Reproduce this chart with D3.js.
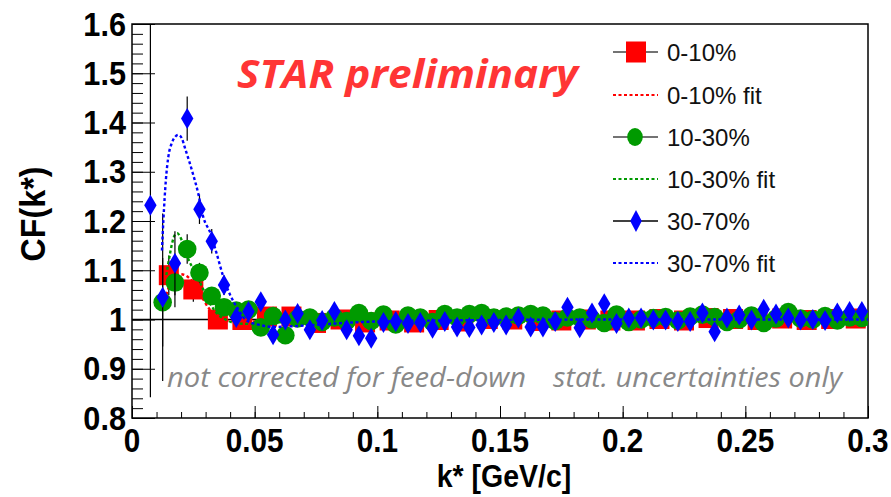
<!DOCTYPE html>
<html><head><meta charset="utf-8">
<script src="https://cdn.jsdelivr.net/npm/d3@7"></script>
<style>body{margin:0;background:#fff}</style></head><body>
<svg id="c" width="891" height="497"></svg>
<script>
// ---------- data ----------
const xTickLabels = ["0","0.05","0.1","0.15","0.2","0.25","0.3"];
const xTickValues = [0,0.05,0.1,0.15,0.2,0.25,0.3];
const yTickLabels = ["0.8","0.9","1","1.1","1.2","1.3","1.4","1.5","1.6"];
const yTickValues = [0.8,0.9,1.0,1.1,1.2,1.3,1.4,1.5,1.6];

const seriesNames = ["0-10%","10-30%","30-70%"];

const kRed = [0.015,0.025,0.035,0.045,0.055,0.065,0.075,0.085,0.095,0.105,0.115,0.125,0.135,0.145,0.155,0.165,0.175,0.185,0.195,0.205,0.215,0.225,0.235,0.245,0.255,0.265,0.275,0.285,0.295];
const cfRed = [1.090,1.061,1.000,0.999,1.006,1.006,0.993,1.000,0.994,0.998,0.994,0.999,0.996,1.001,1.000,0.997,0.998,1.000,0.998,0.998,1.001,0.998,1.003,1.001,0.999,1.002,0.999,1.001,1.002];
const errRed = [0.040,0.025,0.012,0.010,0.010,0.010,0.010,0.010,0.010,0.010,0.010,0.010,0.010,0.010,0.010,0.010,0.010,0.010,0.010,0.010,0.010,0.010,0.010,0.010,0.010,0.010,0.010,0.010,0.010];

const kGreen = [0.0125,0.0175,0.0225,0.0275,0.0325,0.0375,0.0425,0.0475,0.0525,0.0575,0.0625,0.0675,0.0725,0.0775,0.0825,0.0875,0.0925,0.0975,0.1025,0.1075,0.1125,0.1175,0.1225,0.1275,0.1325,0.1375,0.1425,0.1475,0.1525,0.1575,0.1625,0.1675,0.1725,0.1775,0.1825,0.1875,0.1925,0.1975,0.2025,0.2075,0.2125,0.2175,0.2225,0.2275,0.2325,0.2375,0.2425,0.2475,0.2525,0.2575,0.2625,0.2675,0.2725,0.2775,0.2825,0.2875,0.2925,0.2975];
const cfGreen = [1.035,1.075,1.143,1.095,1.048,1.025,1.018,1.020,0.984,1.007,0.968,1.002,1.004,0.995,1.004,0.997,1.013,0.997,1.010,0.990,1.008,1.004,0.995,1.011,1.004,1.011,1.013,1.004,1.006,1.008,1.011,1.008,0.997,1.004,1.004,1.000,0.993,1.010,0.995,1.000,1.003,1.005,0.998,1.006,1.010,1.005,0.995,1.000,1.008,0.993,1.002,1.015,1.002,1.000,1.007,0.998,1.004,1.003];
const errGreen = [0.090,0.050,0.030,0.020,0.015,0.013,0.012,0.012,0.012,0.012,0.012,0.012,0.012,0.012,0.012,0.012,0.012,0.012,0.012,0.012,0.012,0.012,0.012,0.012,0.012,0.012,0.012,0.012,0.012,0.012,0.012,0.012,0.012,0.012,0.012,0.012,0.012,0.012,0.012,0.012,0.012,0.012,0.012,0.012,0.012,0.012,0.012,0.012,0.012,0.012,0.012,0.012,0.012,0.012,0.012,0.012,0.012,0.012];

const kBlue = [0.0075,0.0125,0.0175,0.0225,0.0275,0.0325,0.0375,0.0425,0.0475,0.0525,0.0575,0.0625,0.0675,0.0725,0.0775,0.0825,0.0875,0.0925,0.0975,0.1025,0.1075,0.1125,0.1175,0.1225,0.1275,0.1325,0.1375,0.1425,0.1475,0.1525,0.1575,0.1625,0.1675,0.1725,0.1775,0.1825,0.1875,0.1925,0.1975,0.2025,0.2075,0.2125,0.2175,0.2225,0.2275,0.2325,0.2375,0.2425,0.2475,0.2525,0.2575,0.2625,0.2675,0.2725,0.2775,0.2825,0.2875,0.2925,0.2975];
const cfBlue = [1.232,1.045,1.114,1.408,1.224,1.159,1.070,1.004,1.016,1.036,0.969,0.999,1.012,0.979,0.998,1.016,0.979,0.967,0.962,0.994,0.996,0.992,0.994,0.982,0.996,0.985,0.984,0.989,0.994,0.989,1.003,0.985,0.985,0.996,1.025,0.983,1.013,1.032,0.992,1.003,1.003,0.999,0.999,0.996,0.996,1.013,0.975,1.003,1.009,0.999,1.021,1.011,1.003,0.999,1.000,0.998,1.013,1.016,1.016];
const errBlue = [0.390,0.170,0.065,0.045,0.030,0.025,0.020,0.016,0.015,0.014,0.013,0.013,0.012,0.012,0.012,0.012,0.012,0.012,0.012,0.012,0.012,0.012,0.012,0.012,0.012,0.012,0.012,0.012,0.012,0.012,0.012,0.012,0.012,0.012,0.012,0.012,0.012,0.012,0.012,0.012,0.012,0.012,0.012,0.012,0.012,0.012,0.012,0.012,0.012,0.012,0.012,0.012,0.012,0.012,0.012,0.012,0.012,0.012,0.012];

// fit curves
const kFitRed  = [0.0140,0.0160,0.0180,0.0200,0.0220,0.0250,0.0280,0.0310,0.0350,0.0400,0.0500,0.0700,0.1000,0.1500,0.2000,0.3000];
const cfFitRed = [1.050,1.078,1.089,1.092,1.089,1.075,1.050,1.025,1.005,0.997,0.996,0.998,0.999,1.000,1.000,1.000];
const kFitGreen  = [0.0140,0.0155,0.0165,0.0175,0.0185,0.0195,0.0210,0.0225,0.0245,0.0265,0.0285,0.0310,0.0340,0.0385,0.0430,0.0480,0.0550,0.0700,0.1000,0.1500,0.2000,0.3000];
const cfFitGreen = [1.090,1.134,1.158,1.172,1.175,1.169,1.151,1.128,1.107,1.090,1.067,1.040,1.016,0.999,0.992,0.991,0.993,0.996,0.998,0.999,1.000,1.000];
const kFitBlue  = [0.0122,0.0128,0.0138,0.0148,0.0162,0.0176,0.0189,0.0203,0.0216,0.0234,0.0250,0.0270,0.0290,0.0320,0.0345,0.0372,0.0400,0.0430,0.0465,0.0520,0.0580,0.0680,0.0800,0.1000,0.1500,0.2000,0.3000];
const cfFitBlue = [1.140,1.202,1.283,1.330,1.358,1.371,1.375,1.368,1.348,1.320,1.293,1.256,1.209,1.175,1.134,1.087,1.050,1.023,0.999,0.989,0.985,0.987,0.991,0.996,0.999,1.000,1.000];

// ---------- drawing ----------
const W = 891, H = 497;
const svg = d3.select('#c');
svg.append('rect').attr('width',W).attr('height',H).attr('fill','#fff');

const x = d3.scaleLinear().domain([0,0.3]).range([132,868]);
const y = d3.scaleLinear().domain([0.8,1.6]).range([418,24]);

const colRed = '#ff0000', colGreen = '#009a00', colBlue = '#0000ff';

svg.append('defs').append('clipPath').attr('id','clip')
  .append('rect').attr('x',132).attr('y',24).attr('width',736).attr('height',394);

// ticks
const xMinor = x.ticks(30);
const yMinor = y.ticks(40);
svg.append('g').attr('transform','translate(0,418)')
  .call(d3.axisBottom(x).tickValues(xMinor).tickSize(-6).tickFormat('').tickSizeOuter(0))
  .call(g=>g.select('.domain').remove())
  .call(g=>g.selectAll('line').attr('stroke','#000'));
svg.append('g').attr('transform','translate(0,418)')
  .call(d3.axisBottom(x).tickValues(xTickValues).tickSize(-12).tickFormat('').tickSizeOuter(0))
  .call(g=>g.select('.domain').remove())
  .call(g=>g.selectAll('line').attr('stroke','#000'));
svg.append('g').attr('transform','translate(132,0)')
  .call(d3.axisLeft(y).tickValues(yMinor).tickSize(-11).tickFormat('').tickSizeOuter(0))
  .call(g=>g.select('.domain').remove())
  .call(g=>g.selectAll('line').attr('stroke','#000'));
svg.append('g').attr('transform','translate(132,0)')
  .call(d3.axisLeft(y).tickValues(yTickValues).tickSize(-23).tickFormat('').tickSizeOuter(0))
  .call(g=>g.select('.domain').remove())
  .call(g=>g.selectAll('line').attr('stroke','#000'));

// frame
svg.append('rect').attr('x',132).attr('y',24).attr('width',736).attr('height',394)
  .attr('fill','none').attr('stroke','#000').attr('stroke-width',1.5);

// tick labels
const lblFont = "'Liberation Sans', Arial, Helvetica, sans-serif";
const sx = 0.9;
xTickValues.forEach((v,i)=>{
  svg.append('g').attr('transform',`translate(${x(v)},452) scale(${sx},1)`)
    .append('text').attr('text-anchor','middle').attr('font-family',lblFont)
    .attr('font-weight','bold').attr('font-size',33).text(xTickLabels[i]);
});
yTickValues.forEach((v,i)=>{
  svg.append('g').attr('transform',`translate(126,${y(v)+11.5}) scale(0.93,1)`)
    .append('text').attr('text-anchor','end').attr('font-family',lblFont)
    .attr('font-weight','bold').attr('font-size',33).text(yTickLabels[i]);
});
// axis titles
svg.append('g').attr('transform',`translate(504,487) scale(0.92,1)`)
  .append('text').attr('text-anchor','middle').attr('font-family',lblFont)
  .attr('font-weight','bold').attr('font-size',31).text('k* [GeV/c]');
svg.append('g').attr('transform',`translate(45,214) rotate(-90) scale(0.92,1)`)
  .append('text').attr('text-anchor','middle').attr('font-family',lblFont)
  .attr('font-weight','bold').attr('font-size',35).text('CF(k*)');

// horizontal line at 1
svg.append('line').attr('x1',x(0)).attr('x2',x(0.3)).attr('y1',y(1)).attr('y2',y(1))
  .attr('stroke','#000').attr('stroke-width',1.5);

const plot = svg.append('g').attr('clip-path','url(#clip)');

function errBars(ks, vs, es){
  plot.append('g').selectAll('line').data(ks).join('line')
    .attr('x1',d=>x(d)).attr('x2',d=>x(d))
    .attr('y1',(d,i)=>y(vs[i]+es[i])).attr('y2',(d,i)=>y(vs[i]-es[i]))
    .attr('stroke','#000').attr('stroke-width',1.2);
}
function fitLine(ks, vs, col){
  plot.append('path').datum(ks)
    .attr('d', d3.line().x(d=>x(d)).y((d,i)=>y(vs[i])).curve(d3.curveMonotoneX))
    .attr('fill','none').attr('stroke',col).attr('stroke-width',2.4)
    .attr('stroke-dasharray','3,2.5');
}
const diamond = 'M0,-10.5L6.2,0L0,10.5L-6.2,0Z';

// 0-10%
errBars(kRed, cfRed, errRed);
plot.append('g').selectAll('rect').data(kRed).join('rect')
  .attr('x',d=>x(d)-10).attr('y',(d,i)=>y(cfRed[i])-10)
  .attr('width',20).attr('height',20).attr('fill',colRed);
fitLine(kFitRed, cfFitRed, colRed);
// 10-30%
errBars(kGreen, cfGreen, errGreen);
plot.append('g').selectAll('circle').data(kGreen).join('circle')
  .attr('cx',d=>x(d)).attr('cy',(d,i)=>y(cfGreen[i])).attr('r',9.3).attr('fill',colGreen);
fitLine(kFitGreen, cfFitGreen, colGreen);
// 30-70%
errBars(kBlue, cfBlue, errBlue);
plot.append('g').selectAll('path').data(kBlue).join('path')
  .attr('transform',(d,i)=>`translate(${x(d)},${y(cfBlue[i])})`)
  .attr('d',diamond).attr('fill',colBlue);
fitLine(kFitBlue, cfFitBlue, colBlue);

// legend
const legY = [52,95,137,179,221,263];
const legText = [seriesNames[0], seriesNames[0]+' fit', seriesNames[1], seriesNames[1]+' fit', seriesNames[2], seriesNames[2]+' fit'];
const legCol = [colRed,colRed,colGreen,colGreen,colBlue,colBlue];
const lg = svg.append('g');
legY.forEach((ly,i)=>{
  if(i%2===0){
    lg.append('line').attr('x1',613).attr('x2',658).attr('y1',ly).attr('y2',ly)
      .attr('stroke', i===4 ? '#000' : '#444').attr('stroke-width',1.3);
    if(i===0) lg.append('rect').attr('x',626).attr('y',ly-10.5).attr('width',20).attr('height',21).attr('fill',colRed);
    if(i===2) lg.append('ellipse').attr('cx',635).attr('cy',ly).attr('rx',7.8).attr('ry',9).attr('fill',colGreen);
    if(i===4) lg.append('path').attr('transform',`translate(636,${ly})`).attr('d','M0,-11L5.8,0L0,11L-5.8,0Z').attr('fill',colBlue);
  } else {
    lg.append('line').attr('x1',613).attr('x2',658).attr('y1',ly).attr('y2',ly)
      .attr('stroke',legCol[i]).attr('stroke-width',2.2).attr('stroke-dasharray','3,2.5');
  }
  lg.append('text').attr('x',667).attr('y',ly+8.5).attr('font-family',lblFont)
    .attr('font-size',24).attr('fill','#111').text(legText[i]);
});

// annotations
svg.append('text').attr('x',237).attr('y',88).attr('font-family',"'Open Sans', sans-serif")
  .attr('font-weight','bold').attr('font-style','italic').attr('font-size',40)
  .attr('fill','#ff3535').attr('textLength',341).attr('lengthAdjust','spacingAndGlyphs')
  .text('STAR preliminary');
svg.append('text').attr('x',167).attr('y',387).attr('font-family',"'Open Sans', sans-serif")
  .attr('font-style','italic').attr('font-size',27).attr('fill','#888')
  .attr('textLength',359).attr('lengthAdjust','spacingAndGlyphs')
  .text('not corrected for feed-down');
svg.append('text').attr('x',553).attr('y',387).attr('font-family',"'Open Sans', sans-serif")
  .attr('font-style','italic').attr('font-size',27).attr('fill','#888')
  .attr('textLength',289).attr('lengthAdjust','spacingAndGlyphs')
  .text('stat. uncertainties only');
</script>
</body></html>
